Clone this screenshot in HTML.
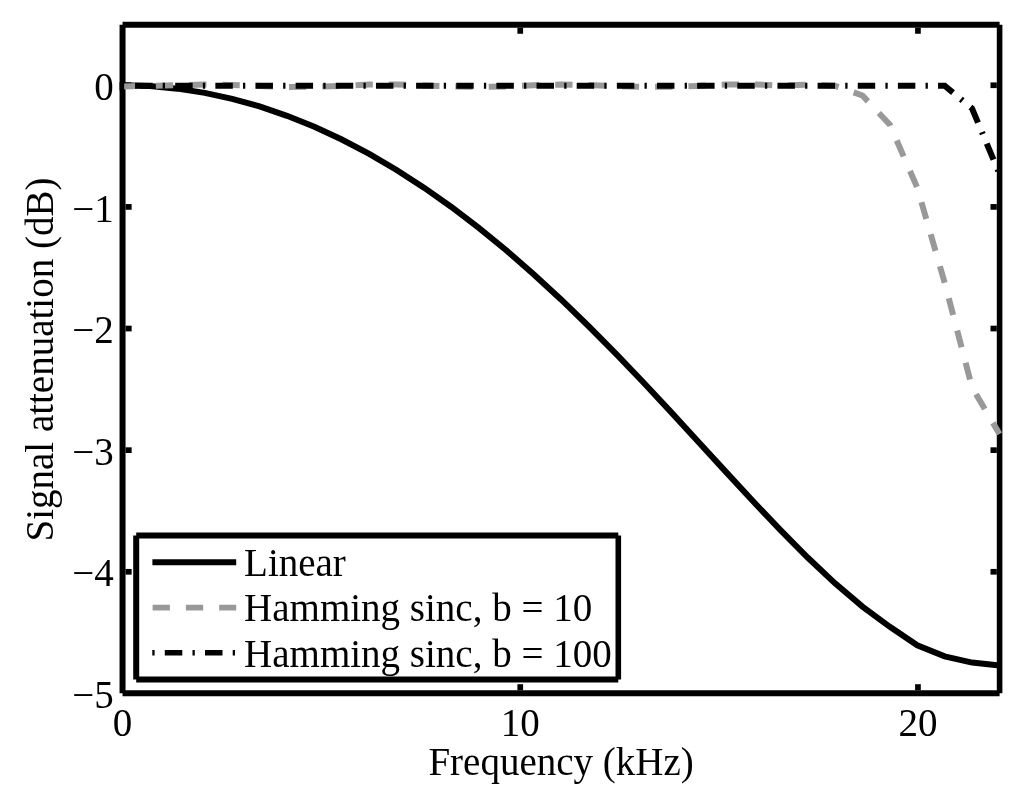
<!DOCTYPE html>
<html><head><meta charset="utf-8"><title>Signal attenuation vs frequency</title>
<style>html,body{margin:0;padding:0;background:#fff;width:1024px;height:811px;overflow:hidden}svg{display:block}</style>
</head><body>
<svg width="1024" height="811" viewBox="0 0 1024 811">
<rect width="1024" height="811" fill="#fff"/>
<g stroke="#000" stroke-width="6" stroke-linecap="butt">
<line x1="122.55" y1="24.65" x2="999.6" y2="24.65"/>
<line x1="122.55" y1="693.3" x2="999.6" y2="693.3"/>
<line x1="122.55" y1="24.65" x2="122.55" y2="693.3"/>
<line x1="999.6" y1="24.65" x2="999.6" y2="693.3" stroke-width="5.6"/>
<line x1="125.55" y1="85.27" x2="131.65" y2="85.27" stroke-width="5.7"/>
<line x1="996.80" y1="85.27" x2="990.50" y2="85.27" stroke-width="5.7"/>
<line x1="125.55" y1="206.90" x2="131.65" y2="206.90" stroke-width="5.7"/>
<line x1="996.80" y1="206.90" x2="990.50" y2="206.90" stroke-width="5.7"/>
<line x1="125.55" y1="328.53" x2="131.65" y2="328.53" stroke-width="5.7"/>
<line x1="996.80" y1="328.53" x2="990.50" y2="328.53" stroke-width="5.7"/>
<line x1="125.55" y1="450.16" x2="131.65" y2="450.16" stroke-width="5.7"/>
<line x1="996.80" y1="450.16" x2="990.50" y2="450.16" stroke-width="5.7"/>
<line x1="125.55" y1="571.79" x2="131.65" y2="571.79" stroke-width="5.7"/>
<line x1="996.80" y1="571.79" x2="990.50" y2="571.79" stroke-width="5.7"/>
<line x1="520.25" y1="690.30" x2="520.25" y2="684.20" stroke-width="5.7"/>
<line x1="520.25" y1="27.65" x2="520.25" y2="33.75" stroke-width="5.7"/>
<line x1="917.95" y1="690.30" x2="917.95" y2="684.20" stroke-width="5.7"/>
<line x1="917.95" y1="27.65" x2="917.95" y2="33.75" stroke-width="5.7"/>
</g>
<g font-family="Liberation Serif, Times New Roman, serif" font-size="39" fill="#000">
<text x="113.8" y="99.87" text-anchor="end">0</text>
<text x="113.8" y="221.50" text-anchor="end">−1</text>
<text x="113.8" y="343.13" text-anchor="end">−2</text>
<text x="113.8" y="464.76" text-anchor="end">−3</text>
<text x="113.8" y="586.39" text-anchor="end">−4</text>
<text x="113.8" y="708.02" text-anchor="end">−5</text>
<text x="122.55" y="735.6" text-anchor="middle">0</text>
<text x="520.25" y="735.6" text-anchor="middle">10</text>
<text x="917.95" y="735.6" text-anchor="middle">20</text>
<text x="561.08" y="774.9" text-anchor="middle">Frequency (kHz)</text>
<text transform="translate(52.6,359.57) rotate(-90)" x="0" y="0" text-anchor="middle">Signal attenuation (dB)</text>
</g>
<g fill="none" stroke-width="6" stroke-linejoin="miter" stroke-miterlimit="10" stroke-linecap="butt">
<polyline points="122.55,85.27 149.95,86.12 177.36,88.66 204.76,92.91 232.17,98.85 259.57,106.48 286.97,115.81 314.38,126.83 341.78,139.54 369.19,153.92 396.59,169.97 423.99,187.66 451.40,206.97 478.80,227.86 506.21,250.28 533.61,274.18 561.01,299.45 588.42,325.99 615.82,353.67 643.23,382.29 670.63,411.64 698.03,441.43 725.44,471.35 752.84,501.00 780.25,529.90 807.65,557.54 835.05,583.32 862.46,606.64 889.86,626.84 917.27,645.30 944.67,656.40 972.07,662.60 999.48,665.59" stroke="#000"/>
<polyline points="122.55,86.60 149.95,85.80 177.36,85.20 204.76,84.60 232.17,85.00 259.57,86.00 286.97,87.00 314.38,86.80 341.78,86.00 369.19,84.50 396.59,84.40 423.99,85.50 451.40,86.40 478.80,86.90 506.21,86.50 533.61,85.20 561.01,84.60 588.42,85.00 615.82,86.00 643.23,86.90 670.63,86.80 698.03,86.00 725.44,84.60 752.84,84.50 780.25,85.40 807.65,84.60 835.05,85.80 862.46,95.50 889.86,124.70 917.27,187.70 944.67,282.70 972.07,387.40 999.48,434.00" stroke="#999" stroke-dasharray="17.3 16"/>
<polyline points="124.85,85.70 149.95,85.70 177.36,85.70 204.76,85.70 232.17,85.70 259.57,85.70 286.97,85.70 314.38,85.70 341.78,85.70 369.19,85.70 396.59,85.70 423.99,85.70 451.40,85.70 478.80,85.70 506.21,85.70 533.61,85.70 561.01,85.70 588.42,85.70 615.82,85.70 643.23,85.70 670.63,85.70 698.03,85.70 725.44,85.70 752.84,85.70 780.25,85.70 807.65,85.70 835.05,85.70 862.46,85.70 889.86,85.70 917.27,85.70 944.67,85.70 972.07,108.50 999.48,174.00" stroke="#000" stroke-dasharray="2.3 10.2 17.45 10.2" stroke-dashoffset="2.3"/>
</g>
<rect x="119.55" y="82.3" width="4.6" height="8" fill="#000"/>
<rect x="136.2" y="535.55" width="482.10" height="143.90" fill="#fff"/>
<g stroke="#000" stroke-width="6" stroke-linecap="butt">
<line x1="136.2" y1="535.55" x2="618.3" y2="535.55"/>
<line x1="136.2" y1="679.45" x2="618.3" y2="679.45"/>
<line x1="136.2" y1="535.55" x2="136.2" y2="679.45"/>
<line x1="618.3" y1="535.55" x2="618.3" y2="679.45" stroke-width="5.6"/>
</g>
<g fill="none" stroke-width="6" stroke-linecap="butt">
<line x1="152.4" y1="562.3" x2="236.2" y2="562.3" stroke="#000"/>
<line x1="152.6" y1="607.6" x2="236.2" y2="607.6" stroke="#999" stroke-width="5.6" stroke-dasharray="17.3 16"/>
<line x1="152.3" y1="652.8" x2="236.2" y2="652.8" stroke="#000" stroke-width="5.6" stroke-dasharray="2.3 10.2 17.5 10.2"/>
</g>
<g font-family="Liberation Serif, Times New Roman, serif" font-size="39" fill="#000">
<text x="244.1" y="575.8">Linear</text>
<text x="244.1" y="621.2">Hamming sinc, b = 10</text>
<text x="244.1" y="666.8">Hamming sinc, b = 100</text>
</g>
</svg>
</body></html>
